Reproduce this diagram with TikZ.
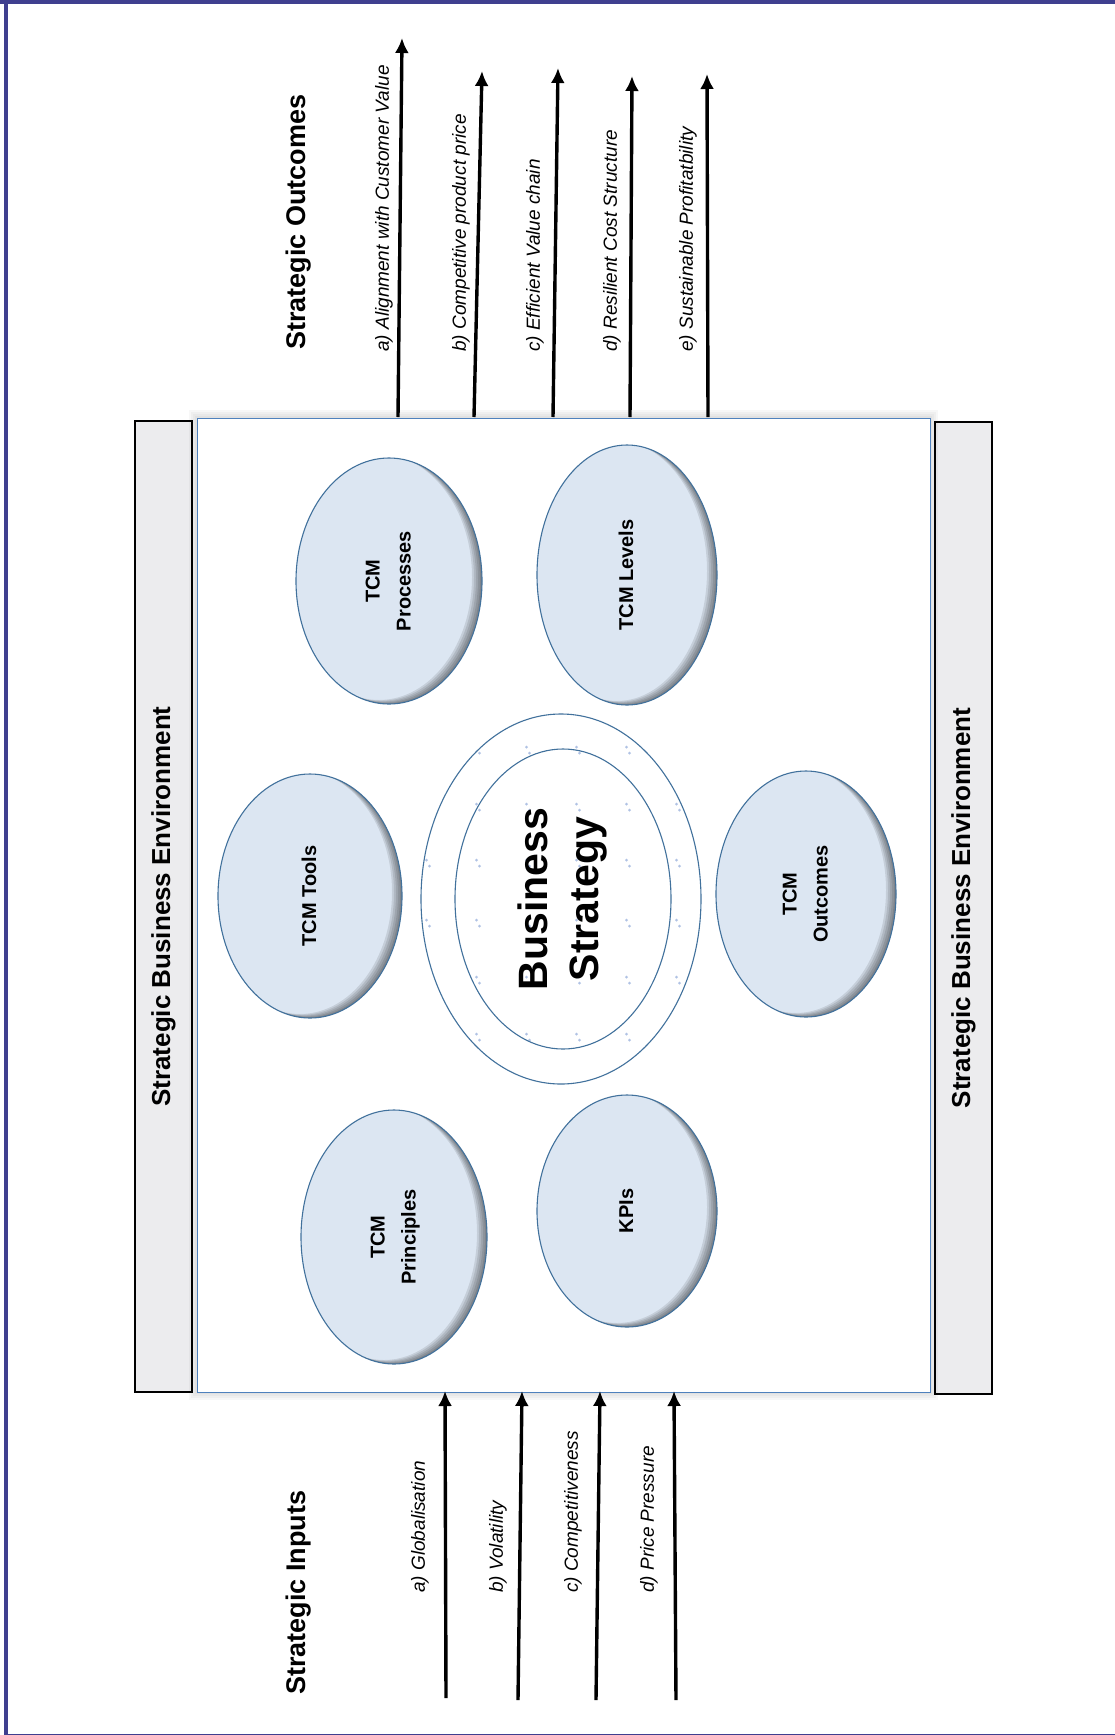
\documentclass[tikz,border=0pt]{standalone}
\usepackage{fontspec}
\setmainfont{Liberation Sans}
\usepackage{graphicx}
\usetikzlibrary{arrows.meta,shapes.geometric,calc}

\definecolor{framblue}{RGB}{63,63,143}
\definecolor{ovalfill}{RGB}{220,230,242}
\definecolor{ovalline}{RGB}{65,113,156}
\definecolor{boxline}{RGB}{79,129,189}
\definecolor{barfill}{RGB}{236,236,238}
\definecolor{dotblue}{RGB}{176,194,228}

\newcommand{\uptext}[1]{\rotatebox{90}{\begin{tabular}{@{}c@{}}#1\end{tabular}}}

\begin{document}
\begin{tikzpicture}[x=1pt, y=-1pt]
\tikzset{ >={Latex[length=15pt,width=14pt]},
  flow/.style={->, line width=3.4pt},
  envbar/.style={draw=black, line width=1.4pt, fill=barfill, rotate=90, minimum height=57pt, inner sep=0pt, font=\bfseries\fontsize{26}{30}\selectfont},
  oval/.style={ellipse, draw=ovalline, line width=1.1pt, fill=ovalfill, inner sep=0pt, font=\bfseries\fontsize{20}{31}\selectfont,
    path picture={
      \foreach \s in {2,4,6,8,10}{
        \fill[black, opacity=.1, even odd rule]
          let \p1=(path picture bounding box.north east), \p2=(path picture bounding box.center) in
          ([xshift=-20pt,yshift=-20pt]path picture bounding box.south west) rectangle ([xshift=20pt,yshift=20pt]path picture bounding box.north east)
          ([xshift=-\s pt, yshift=.4*\s pt]\p2) ellipse [x radius={\x1-\x2}, y radius={\y1-\y2}];
      }}},
  ring/.style={ellipse, draw=ovalline, line width=1.1pt, inner sep=0pt},
  outlabel/.style={rotate=90, anchor=west, inner sep=0pt, font=\itshape\fontsize{19}{23}\selectfont},
  headlabel/.style={rotate=90, anchor=west, inner sep=0pt, font=\bfseries\fontsize{27}{31}\selectfont},
}

\useasboundingbox (0,0) rectangle (1115,1735);

% frame
\fill [framblue] (0,0) rectangle (1115,3.5);
\fill [framblue] (4,0) rectangle (8,1735);
\fill [framblue] (4,1733.5) rectangle (1115,1735);

% environment bars
\node [envbar, minimum width=971pt] (envL) at (163.5,906.5) {Strategic Business Environment};
\node [envbar, minimum width=972pt] (envR) at (963.5,908) {Strategic Business Environment};

% core box with soft shadow
\foreach \g in {2,4,6,8}
  \fill [black, opacity=.03] (197-\g,418-\g) rectangle (930+\g,1392+\g);
\node [draw=boxline, line width=1pt, fill=white, minimum width=733pt, minimum height=974pt, inner sep=0pt] (core) at (563.5,905) {};

% TCM elements
\node [oval, minimum width=186pt, minimum height=246pt] (proc)   at (389,581)  {\uptext{TCM\\Processes}};
\node [oval, minimum width=180pt, minimum height=260pt] (levels) at (627,575)  {\uptext{TCM Levels}};
\node [oval, minimum width=184pt, minimum height=244pt] (tools)  at (310,896)  {\uptext{TCM Tools}};
\node [oval, minimum width=180pt, minimum height=246pt] (outc)   at (806,894)  {\uptext{TCM\\Outcomes}};
\node [oval, minimum width=186pt, minimum height=254pt] (princ)  at (394,1237) {\uptext{TCM\\Principles}};
\node [oval, minimum width=180pt, minimum height=232pt] (kpi)    at (627,1211) {\uptext{KPIs}};

% business strategy
\begin{scope}
  \clip (561,899) ellipse [x radius=140, y radius=185];
  \foreach \x in {428,478,...,678}
    \foreach \y in {750,807,863,923,980,1037}{
      \fill [dotblue] (\x-1.5,\y-3) circle (1.5pt);
      \fill [dotblue] (\x+1.5,\y+3) circle (1.5pt);
    }
\end{scope}
\node [ring, minimum width=280pt, minimum height=370pt] (bsout) at (561,899) {};
\node [ring, minimum width=216pt, minimum height=300pt, font=\bfseries\fontsize{41}{51}\selectfont] (bsin) at (563,899) {\uptext{Business\\Strategy}};

% strategic outcomes
\node [headlabel] (outhead) at (299,350) {Strategic Outcomes};
\foreach \n/\xa/\xb/\yb in {a/398/402/38, b/474/482/71, c/553/558/68, d/630/632/76, e/708/707/74}{
  \coordinate (ot\n) at (\xa,417);
  \coordinate (oh\n) at (\xb,\yb);
  \draw [flow] (ot\n) -- (oh\n);
}
\node [outlabel] (ola) at (384,352) {a) Alignment with Customer Value};
\node [outlabel] (olb) at (461,352) {b) Competitive product price};
\node [outlabel] (olc) at (535,352) {c) Efficient Value chain};
\node [outlabel] (old) at (612,352) {d) Resilient Cost Structure};
\node [outlabel] (ole) at (688,352) {e) Sustainable Profitatbility};

% strategic inputs
\node [headlabel] (inhead) at (299,1695) {Strategic Inputs};
\foreach \n/\xa/\xb/\ya in {a/446/445/1698, b/518/522/1700, c/596/600/1700, d/676/674/1700}{
  \coordinate (it\n) at (\xa,\ya);
  \coordinate (ih\n) at (\xb,1391);
  \draw [flow] (it\n) -- (ih\n);
}
\node [outlabel] (ila) at (420,1593) {a) Globalisation};
\node [outlabel] (ilb) at (498,1593) {b) Volatility};
\node [outlabel] (ilc) at (573,1593) {c) Competitiveness};
\node [outlabel] (ild) at (649,1593) {d) Price Pressure};
\end{tikzpicture}
\end{document}
